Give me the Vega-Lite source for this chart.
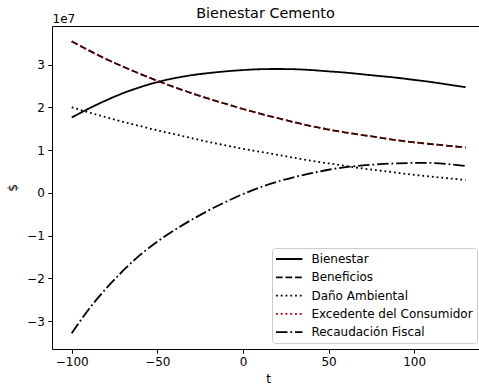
{
  "$schema": "https://vega.github.io/schema/vega-lite/v6.json",
  "width": 427,
  "height": 323,
  "autosize": {"type": "none"},
  "padding": {"left": 52, "top": 26, "right": 0, "bottom": 37},
  "background": "white",
  "config": {
    "font": "DejaVu Sans",
    "view": {"stroke": null},
    "axis": {
      "grid": false,
      "domainColor": "black",
      "domainWidth": 1,
      "tickColor": "black",
      "tickWidth": 1,
      "tickSize": 4.2,
      "labelFont": "DejaVu Sans",
      "labelFontSize": 12,
      "labelColor": "black",
      "labelPadding": 3.5,
      "titleFont": "DejaVu Sans",
      "titleFontSize": 12,
      "titleFontWeight": "normal",
      "titleColor": "black"
    },
    "legend": {
      "orient": "none",
      "legendX": 220,
      "legendY": 222,
      "symbolType": "M-2.2,0H2.2",
      "symbolSize": 144,
      "symbolOffset": 6.2,
      "symbolStrokeWidth": 1.8,
      "labelFont": "DejaVu Sans",
      "labelFontSize": 12,
      "labelColor": "black",
      "labelOffset": 15.2,
      "labelLimit": 300,
      "padding": 4,
      "rowPadding": 5.3,
      "fillColor": "white",
      "strokeColor": "#cccccc",
      "cornerRadius": 3
    }
  },
  "title": {
    "text": "Bienestar Cemento",
    "font": "DejaVu Sans",
    "fontSize": 14.4,
    "fontWeight": "normal",
    "color": "black",
    "offset": -9
  },
  "data": {
    "values": [
      {"t": -100, "serie": "Bienestar", "v": 1.76e7},
      {"t": -90, "serie": "Bienestar", "v": 1.97e7},
      {"t": -80, "serie": "Bienestar", "v": 2.16e7},
      {"t": -70, "serie": "Bienestar", "v": 2.33e7},
      {"t": -60, "serie": "Bienestar", "v": 2.47e7},
      {"t": -50, "serie": "Bienestar", "v": 2.59e7},
      {"t": -40, "serie": "Bienestar", "v": 2.68e7},
      {"t": -30, "serie": "Bienestar", "v": 2.75e7},
      {"t": -20, "serie": "Bienestar", "v": 2.80e7},
      {"t": -10, "serie": "Bienestar", "v": 2.84e7},
      {"t": 0, "serie": "Bienestar", "v": 2.87e7},
      {"t": 10, "serie": "Bienestar", "v": 2.89e7},
      {"t": 20, "serie": "Bienestar", "v": 2.895e7},
      {"t": 30, "serie": "Bienestar", "v": 2.89e7},
      {"t": 40, "serie": "Bienestar", "v": 2.87e7},
      {"t": 50, "serie": "Bienestar", "v": 2.84e7},
      {"t": 60, "serie": "Bienestar", "v": 2.81e7},
      {"t": 70, "serie": "Bienestar", "v": 2.77e7},
      {"t": 80, "serie": "Bienestar", "v": 2.73e7},
      {"t": 90, "serie": "Bienestar", "v": 2.69e7},
      {"t": 100, "serie": "Bienestar", "v": 2.64e7},
      {"t": 110, "serie": "Bienestar", "v": 2.59e7},
      {"t": 120, "serie": "Bienestar", "v": 2.53e7},
      {"t": 130, "serie": "Bienestar", "v": 2.47e7},
      {"t": -100, "serie": "Beneficios", "v": 3.54e7},
      {"t": -90, "serie": "Beneficios", "v": 3.33e7},
      {"t": -80, "serie": "Beneficios", "v": 3.13e7},
      {"t": -70, "serie": "Beneficios", "v": 2.95e7},
      {"t": -60, "serie": "Beneficios", "v": 2.78e7},
      {"t": -50, "serie": "Beneficios", "v": 2.62e7},
      {"t": -40, "serie": "Beneficios", "v": 2.47e7},
      {"t": -30, "serie": "Beneficios", "v": 2.33e7},
      {"t": -20, "serie": "Beneficios", "v": 2.20e7},
      {"t": -10, "serie": "Beneficios", "v": 2.08e7},
      {"t": 0, "serie": "Beneficios", "v": 1.96e7},
      {"t": 10, "serie": "Beneficios", "v": 1.85e7},
      {"t": 20, "serie": "Beneficios", "v": 1.75e7},
      {"t": 30, "serie": "Beneficios", "v": 1.65e7},
      {"t": 40, "serie": "Beneficios", "v": 1.56e7},
      {"t": 50, "serie": "Beneficios", "v": 1.48e7},
      {"t": 60, "serie": "Beneficios", "v": 1.41e7},
      {"t": 70, "serie": "Beneficios", "v": 1.35e7},
      {"t": 80, "serie": "Beneficios", "v": 1.29e7},
      {"t": 90, "serie": "Beneficios", "v": 1.23e7},
      {"t": 100, "serie": "Beneficios", "v": 1.18e7},
      {"t": 110, "serie": "Beneficios", "v": 1.14e7},
      {"t": 120, "serie": "Beneficios", "v": 1.10e7},
      {"t": 130, "serie": "Beneficios", "v": 1.06e7},
      {"t": -100, "serie": "Daño Ambiental", "v": 2.00e7},
      {"t": -90, "serie": "Daño Ambiental", "v": 1.88e7},
      {"t": -80, "serie": "Daño Ambiental", "v": 1.77e7},
      {"t": -70, "serie": "Daño Ambiental", "v": 1.66e7},
      {"t": -60, "serie": "Daño Ambiental", "v": 1.56e7},
      {"t": -50, "serie": "Daño Ambiental", "v": 1.46e7},
      {"t": -40, "serie": "Daño Ambiental", "v": 1.37e7},
      {"t": -30, "serie": "Daño Ambiental", "v": 1.28e7},
      {"t": -20, "serie": "Daño Ambiental", "v": 1.19e7},
      {"t": -10, "serie": "Daño Ambiental", "v": 1.11e7},
      {"t": 0, "serie": "Daño Ambiental", "v": 1.03e7},
      {"t": 10, "serie": "Daño Ambiental", "v": 0.96e7},
      {"t": 20, "serie": "Daño Ambiental", "v": 0.89e7},
      {"t": 30, "serie": "Daño Ambiental", "v": 0.82e7},
      {"t": 40, "serie": "Daño Ambiental", "v": 0.75e7},
      {"t": 50, "serie": "Daño Ambiental", "v": 0.69e7},
      {"t": 60, "serie": "Daño Ambiental", "v": 0.63e7},
      {"t": 70, "serie": "Daño Ambiental", "v": 0.57e7},
      {"t": 80, "serie": "Daño Ambiental", "v": 0.52e7},
      {"t": 90, "serie": "Daño Ambiental", "v": 0.47e7},
      {"t": 100, "serie": "Daño Ambiental", "v": 0.42e7},
      {"t": 110, "serie": "Daño Ambiental", "v": 0.38e7},
      {"t": 120, "serie": "Daño Ambiental", "v": 0.34e7},
      {"t": 130, "serie": "Daño Ambiental", "v": 0.30e7},
      {"t": -100, "serie": "Excedente del Consumidor", "v": 3.54e7},
      {"t": -90, "serie": "Excedente del Consumidor", "v": 3.33e7},
      {"t": -80, "serie": "Excedente del Consumidor", "v": 3.13e7},
      {"t": -70, "serie": "Excedente del Consumidor", "v": 2.95e7},
      {"t": -60, "serie": "Excedente del Consumidor", "v": 2.78e7},
      {"t": -50, "serie": "Excedente del Consumidor", "v": 2.62e7},
      {"t": -40, "serie": "Excedente del Consumidor", "v": 2.47e7},
      {"t": -30, "serie": "Excedente del Consumidor", "v": 2.33e7},
      {"t": -20, "serie": "Excedente del Consumidor", "v": 2.20e7},
      {"t": -10, "serie": "Excedente del Consumidor", "v": 2.08e7},
      {"t": 0, "serie": "Excedente del Consumidor", "v": 1.96e7},
      {"t": 10, "serie": "Excedente del Consumidor", "v": 1.85e7},
      {"t": 20, "serie": "Excedente del Consumidor", "v": 1.75e7},
      {"t": 30, "serie": "Excedente del Consumidor", "v": 1.65e7},
      {"t": 40, "serie": "Excedente del Consumidor", "v": 1.56e7},
      {"t": 50, "serie": "Excedente del Consumidor", "v": 1.48e7},
      {"t": 60, "serie": "Excedente del Consumidor", "v": 1.41e7},
      {"t": 70, "serie": "Excedente del Consumidor", "v": 1.35e7},
      {"t": 80, "serie": "Excedente del Consumidor", "v": 1.29e7},
      {"t": 90, "serie": "Excedente del Consumidor", "v": 1.23e7},
      {"t": 100, "serie": "Excedente del Consumidor", "v": 1.18e7},
      {"t": 110, "serie": "Excedente del Consumidor", "v": 1.14e7},
      {"t": 120, "serie": "Excedente del Consumidor", "v": 1.10e7},
      {"t": 130, "serie": "Excedente del Consumidor", "v": 1.06e7},
      {"t": -100, "serie": "Recaudación Fiscal", "v": -3.28e7},
      {"t": -90, "serie": "Recaudación Fiscal", "v": -2.72e7},
      {"t": -80, "serie": "Recaudación Fiscal", "v": -2.24e7},
      {"t": -70, "serie": "Recaudación Fiscal", "v": -1.82e7},
      {"t": -60, "serie": "Recaudación Fiscal", "v": -1.45e7},
      {"t": -50, "serie": "Recaudación Fiscal", "v": -1.14e7},
      {"t": -40, "serie": "Recaudación Fiscal", "v": -0.87e7},
      {"t": -30, "serie": "Recaudación Fiscal", "v": -0.63e7},
      {"t": -20, "serie": "Recaudación Fiscal", "v": -0.41e7},
      {"t": -10, "serie": "Recaudación Fiscal", "v": -0.21e7},
      {"t": 0, "serie": "Recaudación Fiscal", "v": -0.03e7},
      {"t": 10, "serie": "Recaudación Fiscal", "v": 0.13e7},
      {"t": 20, "serie": "Recaudación Fiscal", "v": 0.26e7},
      {"t": 30, "serie": "Recaudación Fiscal", "v": 0.37e7},
      {"t": 40, "serie": "Recaudación Fiscal", "v": 0.46e7},
      {"t": 50, "serie": "Recaudación Fiscal", "v": 0.54e7},
      {"t": 60, "serie": "Recaudación Fiscal", "v": 0.60e7},
      {"t": 70, "serie": "Recaudación Fiscal", "v": 0.64e7},
      {"t": 80, "serie": "Recaudación Fiscal", "v": 0.67e7},
      {"t": 90, "serie": "Recaudación Fiscal", "v": 0.69e7},
      {"t": 100, "serie": "Recaudación Fiscal", "v": 0.70e7},
      {"t": 110, "serie": "Recaudación Fiscal", "v": 0.70e7},
      {"t": 120, "serie": "Recaudación Fiscal", "v": 0.67e7},
      {"t": 130, "serie": "Recaudación Fiscal", "v": 0.63e7}
    ]
  },
  "encoding": {
    "y": {
      "field": "v",
      "type": "quantitative",
      "scale": {"domain": [-36500000, 39000000], "nice": false, "zero": false},
      "axis": {
        "values": [-30000000, -20000000, -10000000, 0, 10000000, 20000000, 30000000],
        "labelExpr": "format(datum.value / 10000000, 'd')",
        "title": "$",
        "titlePadding": 7
      }
    },
    "color": {
      "field": "serie",
      "type": "nominal",
      "title": null,
      "scale": {
        "domain": ["Bienestar", "Beneficios", "Daño Ambiental", "Excedente del Consumidor", "Recaudación Fiscal"],
        "range": ["black", "black", "black", "#8b0000", "black"]
      }
    },
    "strokeDash": {
      "field": "serie",
      "type": "nominal",
      "title": null,
      "scale": {
        "domain": ["Bienestar", "Beneficios", "Daño Ambiental", "Excedente del Consumidor", "Recaudación Fiscal"],
        "range": [[1, 0], [6.66, 2.88], [1.8, 2.97], [1.8, 2.97], [11.5, 2.88, 1.8, 2.88]]
      }
    }
  },
  "layer": [
    {
      "transform": [{"filter": "datum.serie !== 'Excedente del Consumidor'"}],
      "mark": {"type": "line", "strokeWidth": 1.8, "interpolate": "natural"},
      "encoding": {
        "x": {
          "field": "t",
          "type": "quantitative",
          "scale": {"domain": [-111.5, 137.85], "nice": false, "zero": false},
          "axis": {
            "values": [-100, -50, 0, 50, 100],
            "labelFlush": false,
            "title": "t",
            "titlePadding": 6,
            "titleX": 216
          }
        }
      }
    },
    {
      "transform": [{"filter": "datum.serie === 'Excedente del Consumidor'"}],
      "mark": {"type": "line", "strokeWidth": 1.8, "interpolate": "natural"},
      "encoding": {
        "x": {
          "field": "t",
          "type": "quantitative",
          "scale": {"domain": [-111.5, 137.85], "nice": false, "zero": false},
          "axis": {
            "orient": "top",
            "labels": false,
            "ticks": false,
            "title": "1e7",
            "titleAnchor": "start",
            "titleAlign": "left",
            "titleBaseline": "alphabetic",
            "titleX": 0,
            "titleY": -4
          }
        }
      }
    }
  ],
  "resolve": {"axis": {"x": "independent"}}
}
